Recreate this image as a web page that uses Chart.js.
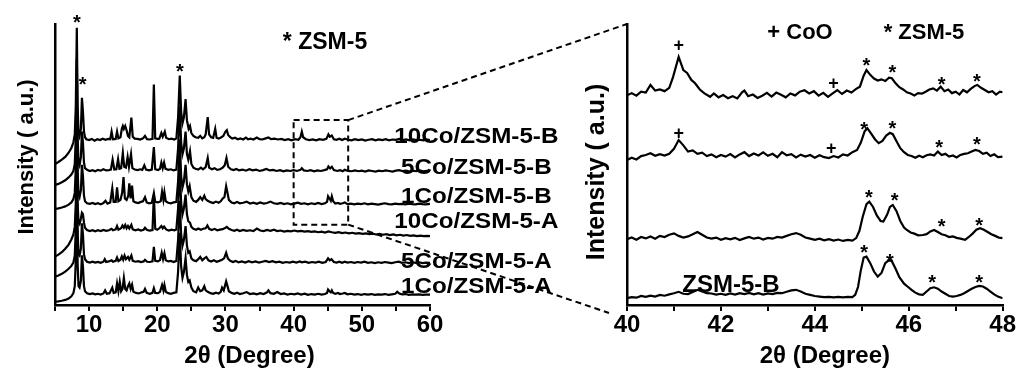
<!DOCTYPE html>
<html>
<head>
<meta charset="utf-8">
<script src="https://cdn.jsdelivr.net/npm/chart.js@4.4.0/dist/chart.umd.min.js"></script>
<style>
  html, body { margin: 0; padding: 0; background: #fff; width: 1016px; height: 373px; overflow: hidden; }
  #wrap { position: relative; width: 1016px; height: 373px; }
  canvas { position: absolute; top: 0; }
</style>
</head>
<body>
<div id="wrap">
  <canvas id="leftChart" width="580" height="373" style="left:0"></canvas>
  <canvas id="rightChart" width="456" height="373" style="left:560px"></canvas>
  <canvas id="links" width="1016" height="373" style="left:0;pointer-events:none"></canvas>
</div>
<script>
// ---- left panel: full patterns, 2θ 5-60, intensity above each trace's own baseline ----
const leftLabels  = ['1Co/ZSM-5-A', '5Co/ZSM-5-A', '10Co/ZSM-5-A', '1Co/ZSM-5-B', '5Co/ZSM-5-B', '10Co/ZSM-5-B'];
const leftOffsets = [3.7, 15.1, 26.3, 35.9, 47.7, 58.7];
const leftTicks   = [10, 20, 30, 40, 50, 60];

const p1CoA = [[5,-2.5],[5.5,-2.4],[6,-2.2],[6.5,-1.9],[7,-1.4],[7.4,-0.6],[7.7,0.5],[7.9,3],[8.05,12],[8.2,38],[8.32,11],[8.45,3],[8.6,2.5],[8.8,5],[8.95,14],[9.1,10],[9.25,3],[9.4,1.2],[9.7,0.5],[10.1,0.2],[10.5,0.4],[10.9,0.1],[11.3,0.3],[11.7,0],[12.1,0.4],[12.35,1.5],[12.6,0.3],[13,0.5],[13.4,2.5],[13.6,0.6],[13.9,0.8],[14.1,4],[14.3,1.2],[14.5,4.5],[14.7,1.2],[14.9,2],[15.1,5.9],[15.3,2],[15.5,1.5],[15.7,3],[15.9,4],[16.1,2],[16.3,3.5],[16.5,1],[16.9,0.6],[17.3,0.4],[17.7,0.8],[18,1],[18.2,2],[18.45,0.6],[18.9,0.3],[19.3,0.6],[19.5,2.3],[19.7,0.6],[20.1,0.5],[20.4,1],[20.7,3.4],[20.9,1.5],[21.05,3.4],[21.25,1],[21.6,0.5],[22,0.3],[22.4,0.6],[22.8,0.8],[23.05,8],[23.3,22],[23.5,10],[23.7,6],[23.9,8],[24.15,13],[24.35,7],[24.55,4.5],[24.75,5],[25,2.5],[25.3,1.2],[25.7,0.8],[26,2.5],[26.3,1.2],[26.6,1.5],[26.9,3],[27.1,1.5],[27.4,1],[27.8,0.5],[28.2,0.3],[28.6,0.7],[29,0.4],[29.3,1],[29.5,2.5],[29.75,1.5],[30.1,4.7],[30.3,3],[30.5,1.2],[30.9,0.6],[31.3,0.3],[31.7,0.7],[32.1,0.2],[32.6,0.5],[33.1,0.9],[33.6,0.2],[34.1,0.4],[34.6,0.1],[35.1,0.5],[35.6,0.2],[36.1,0.8],[36.3,1.5],[36.6,0.5],[37.1,0.3],[37.6,0.9],[38.1,0.2],[38.6,0.4],[39.1,0],[39.6,0.3],[40.1,0.1],[40.6,0.4],[41.1,0],[41.6,0.3],[42.1,-0.1],[42.6,0.2],[43.1,0],[43.6,0.3],[44.1,0],[44.6,0.2],[44.9,0.6],[45.05,1.8],[45.25,1.2],[45.45,0.8],[45.6,1.5],[45.8,0.6],[46.1,0.3],[46.5,0.6],[46.8,0.2],[47.2,0.4],[47.5,0.6],[47.9,0.1],[48.4,0.3],[48.9,0],[49.4,0.2],[49.9,-0.1],[50.4,0.2],[50.9,0],[51.4,0.2],[51.9,-0.1],[52.4,0.1],[52.9,0],[53.4,0.2],[53.9,-0.1],[54.4,0.1],[54.9,0.3],[55.2,1],[55.5,0.4],[55.9,0.1],[56.4,0.2],[56.9,-0.1],[57.4,0.1],[57.9,0],[58.4,0.1],[58.9,-0.1],[59.4,0],[60,0]];

const p5CoA = [[5,-5],[5.5,-4.6],[6,-4],[6.5,-3.2],[7,-2.2],[7.4,-1.2],[7.7,0],[7.9,2.5],[8.05,12],[8.2,38],[8.32,11],[8.45,3],[8.6,2.5],[8.8,5],[8.95,14],[9.1,10],[9.25,3],[9.4,1.2],[9.7,0.3],[10.1,0],[10.5,0.3],[10.9,0],[11.3,0.2],[11.7,-0.1],[12.1,0.3],[12.3,1.2],[12.5,0.2],[12.9,0.4],[13.3,0.8],[13.5,0.3],[13.9,0.6],[14.1,1.8],[14.3,0.5],[14.6,1],[14.8,2.2],[15,1],[15.2,2.5],[15.4,1.2],[15.7,2],[15.9,1],[16.2,2.5],[16.4,0.6],[16.8,0.3],[17.2,0.5],[17.6,0.2],[18,0.4],[18.2,1],[18.5,0.3],[18.9,0.2],[19.3,0.4],[19.5,5.6],[19.7,0.6],[20.1,0.4],[20.4,0.9],[20.65,3.5],[20.85,1.2],[21.05,3.3],[21.25,0.8],[21.6,0.4],[22,0.6],[22.4,0.2],[22.8,0.6],[23.05,8],[23.3,22],[23.5,10],[23.7,6],[23.9,8],[24.15,13],[24.35,6],[24.55,3.5],[24.75,4],[25,1.5],[25.3,0.8],[25.7,0.5],[26,1.2],[26.3,2],[26.6,0.8],[26.9,1.5],[27.2,2],[27.5,0.8],[27.9,0.4],[28.3,0.8],[28.7,0.3],[29.1,0.6],[29.5,1],[29.8,1.5],[30.1,3.5],[30.35,1.5],[30.7,0.6],[31.1,0.2],[31.5,0.6],[31.9,0.1],[32.4,0.4],[32.9,0],[33.4,0.5],[33.9,0.1],[34.4,0.4],[34.9,0],[35.4,0.3],[35.9,0.6],[36.4,0.2],[36.9,0.5],[37.4,0.1],[37.9,0.3],[38.4,-0.1],[38.9,0.2],[39.4,0],[39.9,0.3],[40.4,0],[40.9,0.4],[41.2,0.1],[41.7,0.3],[42.2,-0.1],[42.7,0.2],[43.2,0],[43.7,0.3],[44.2,-0.1],[44.7,0.2],[45.05,1.5],[45.3,0.8],[45.55,1.2],[45.9,0.2],[46.3,0],[46.7,0.3],[47.1,-0.1],[47.5,0.3],[47.9,0],[48.4,0.2],[48.9,-0.1],[49.4,0.2],[49.9,0],[50.4,0.3],[50.9,-0.1],[51.4,0.1],[51.9,-0.2],[52.4,0.1],[52.9,-0.1],[53.4,0.2],[53.9,0],[54.4,-0.2],[54.9,0.1],[55.4,0.3],[55.9,-0.1],[56.4,0.1],[56.9,-0.2],[57.4,0.1],[57.9,-0.1],[58.4,0.1],[58.9,-0.2],[59.4,0],[60,-0.1]];

const p10CoA = [[5,-9.1],[5.5,-8.4],[6,-7.5],[6.5,-6.3],[7,-4.8],[7.4,-3],[7.7,-1.2],[7.9,1.5],[8.05,10],[8.2,38],[8.32,10],[8.45,3],[8.6,2.5],[8.8,4.5],[8.95,6.5],[9.1,6],[9.25,3],[9.4,1.2],[9.7,0.4],[10.1,0],[10.5,0.3],[10.9,-0.1],[11.3,0.3],[11.7,0],[12.1,0.4],[12.5,0.1],[12.9,0.3],[13.3,0.8],[13.5,0.3],[13.9,0.6],[14.1,1.8],[14.3,0.5],[14.7,1],[14.9,2],[15.1,1.2],[15.3,2.2],[15.5,1],[15.7,1.8],[15.9,0.9],[16.2,2.2],[16.4,0.6],[16.8,0.3],[17.2,0.6],[17.6,0.2],[18,0.5],[18.2,1.2],[18.5,0.4],[18.9,0.2],[19.3,0.4],[19.5,12.8],[19.7,0.8],[20,0.5],[20.3,1],[20.6,1.8],[20.8,1],[21,1.6],[21.3,0.6],[21.7,0.2],[22.1,0.5],[22.5,0.3],[22.8,0.6],[23.05,8],[23.3,22],[23.5,10],[23.7,6],[23.9,8],[24.15,13],[24.35,6],[24.55,3.5],[24.8,3],[25,1.5],[25.3,0.8],[25.7,0.5],[26,0.9],[26.4,0.5],[26.8,0.9],[27.1,1],[27.35,2],[27.6,0.8],[28,0.4],[28.4,0.8],[28.8,0.3],[29.2,0.5],[29.6,0.7],[30,1.2],[30.2,1.5],[30.5,0.8],[30.9,0.4],[31.3,0.1],[31.7,0.5],[32.1,0],[32.6,0.4],[33.1,0.1],[33.6,0.3],[34.1,0],[34.6,0.9],[35.1,0.2],[35.6,0],[36.1,0.4],[36.6,0.1],[37.1,0.5],[37.6,0],[38.1,0.2],[38.6,-0.2],[39.1,0.1],[39.6,-0.1],[40.1,0.2],[40.6,-0.1],[41.1,0.1],[41.6,-0.2],[42.1,0],[42.6,-0.3],[43.1,-0.1],[43.6,-0.4],[44.1,-0.2],[44.6,-0.5],[45.1,-0.1],[45.6,-0.4],[46.1,-0.6],[46.6,-0.4],[47.1,-0.7],[47.6,-0.5],[48.1,-0.8],[48.6,-0.6],[49.1,-0.9],[49.6,-0.7],[50.1,-1],[50.6,-0.8],[51.1,-1.1],[51.6,-0.9],[52.1,-1.2],[52.6,-1],[53.1,-1.3],[53.6,-1.1],[54.1,-1.4],[54.6,-1.2],[55.1,-1.5],[55.6,-1.3],[56.1,-1.6],[56.6,-1.4],[57.1,-1.7],[57.6,-1.5],[58.1,-1.8],[58.6,-1.6],[59.1,-1.8],[59.6,-1.7],[60,-1.8]];

const p1CoB = [[5,-1.7],[5.5,-1.5],[6,-1.2],[6.5,-0.8],[7,-0.2],[7.4,0.6],[7.7,1.8],[7.9,4],[8.05,13],[8.2,40],[8.32,12],[8.45,3.5],[8.6,2.5],[8.8,5],[8.95,14],[9.1,10],[9.25,3],[9.4,1],[9.7,0.3],[10.1,0.1],[10.5,0.4],[10.9,0],[11.3,0.3],[11.7,-0.1],[12.1,0.4],[12.4,1.2],[12.7,0.2],[13.1,0.6],[13.4,5.6],[13.6,0.8],[13.9,0.8],[14.1,6],[14.3,1],[14.6,1.5],[14.85,4],[15.05,9.6],[15.25,2],[15.5,1.5],[15.75,3],[15.9,7.4],[16.1,2],[16.3,6.6],[16.5,1],[16.8,0.6],[17.2,0.4],[17.6,0.8],[17.9,1],[18.2,2.5],[18.45,0.6],[18.8,0.3],[19.2,0.5],[19.5,3.9],[19.7,0.8],[20.1,0.6],[20.5,1],[20.7,4.4],[20.9,1.5],[21.05,4.2],[21.25,1],[21.6,0.5],[22,0.3],[22.4,0.6],[22.8,0.8],[23.05,8],[23.3,23],[23.5,10],[23.7,6],[23.9,8],[24.15,14],[24.35,7],[24.55,4.5],[24.75,6.4],[25,2.5],[25.3,1.2],[25.7,0.8],[26,1.5],[26.3,2.5],[26.6,1.5],[26.9,3],[27.1,1.8],[27.4,1.2],[27.8,0.7],[28.2,0.4],[28.6,0.9],[29,0.5],[29.3,1],[29.6,2],[29.85,2.5],[30.1,6.4],[30.3,4],[30.5,1.5],[30.9,0.6],[31.3,0.3],[31.7,0.8],[32.1,0.3],[32.6,0.5],[33.1,0.9],[33.6,0.2],[34.1,0.5],[34.6,0.1],[35.1,0.6],[35.6,0.2],[36.1,0.4],[36.6,0.9],[37.1,0.3],[37.6,0.1],[38.1,0.4],[38.6,0],[39.1,0.3],[39.6,-0.1],[40.1,0.2],[40.6,0.5],[41.1,0.1],[41.6,0.3],[42.1,-0.1],[42.6,0.3],[43.1,0],[43.6,0.4],[44.1,0],[44.6,0.3],[44.9,0.8],[45.05,2.8],[45.25,2],[45.45,1.2],[45.6,2.8],[45.8,1],[46.1,0.2],[46.5,0.4],[46.8,0.1],[47.2,0.3],[47.5,0.6],[47.9,0],[48.4,0.2],[48.9,-0.1],[49.4,0.2],[49.9,0],[50.4,0.3],[50.9,-0.1],[51.4,0.2],[51.9,0],[52.4,-0.2],[52.9,0.1],[53.4,0.3],[53.9,0],[54.4,-0.1],[54.9,0.2],[55.4,0],[55.9,0.1],[56.4,-0.1],[56.9,0.2],[57.4,0],[57.9,-0.1],[58.4,0.2],[58.9,0],[59.4,-0.1],[60,0.1]];

const p5CoB = [[5,-5],[5.5,-4.6],[6,-4],[6.5,-3.3],[7,-2.3],[7.4,-1.3],[7.7,0],[7.9,2.5],[8.05,12],[8.2,40],[8.32,12],[8.45,3],[8.6,2],[8.8,5],[8.95,14],[9.1,10],[9.25,3],[9.4,1],[9.7,0.4],[10.1,0],[10.5,0.3],[10.9,-0.1],[11.3,0.4],[11.7,0.1],[12.1,0.6],[12.5,0.2],[12.9,0.3],[13.2,0.5],[13.45,4],[13.7,0.5],[14,0.6],[14.25,4.2],[14.45,0.8],[14.7,1],[14.95,6.4],[15.15,1.5],[15.4,1.2],[15.65,5],[15.85,1.5],[16.15,6],[16.35,1],[16.7,0.5],[17.1,0.3],[17.5,0.6],[17.8,0.4],[18.1,2],[18.35,0.5],[18.8,0.2],[19.2,0.5],[19.5,8.5],[19.7,0.6],[20.1,0.3],[20.4,0.8],[20.6,3],[20.8,1],[21,3],[21.2,0.8],[21.6,0.4],[22,0.6],[22.4,0.2],[22.8,0.5],[23.05,8],[23.3,23],[23.5,10],[23.7,6],[23.9,8],[24.15,14],[24.35,6],[24.55,4],[24.8,7],[25,2.5],[25.3,1.2],[25.6,0.8],[26,0.5],[26.4,1.2],[26.7,0.6],[27.1,1.4],[27.4,4.6],[27.6,1.2],[28,0.6],[28.4,1],[28.8,0.4],[29.2,0.6],[29.6,1.2],[29.9,2],[30.15,4.6],[30.4,1.5],[30.8,0.6],[31.2,0.3],[31.6,0.7],[32,0.2],[32.5,0.5],[33,0.1],[33.5,0.6],[34,0.2],[34.5,0.5],[35,0],[35.5,0.3],[36,0.7],[36.5,0.2],[37,0.4],[37.5,0],[38,0.3],[38.5,-0.1],[39,0.2],[39.5,0],[40,0.3],[40.5,0],[41,0.4],[41.2,1],[41.5,0.2],[42,0],[42.5,0.3],[43,-0.1],[43.5,0.2],[44,0],[44.5,0.3],[44.9,0.6],[45.1,1.6],[45.35,0.9],[45.6,1.5],[45.9,0.3],[46.4,0],[46.8,0.3],[47.2,-0.1],[47.5,0.4],[48,0],[48.5,-0.1],[49,0.2],[49.5,-0.1],[50,0.1],[50.5,-0.2],[51,0.2],[51.5,0],[52,-0.2],[52.5,0.1],[53,-0.1],[53.5,0.2],[54,0],[54.5,-0.2],[55,0.1],[55.5,0.3],[56,-0.1],[56.5,0.1],[57,-0.2],[57.5,0.1],[58,-0.1],[58.5,0.2],[59,-0.1],[59.5,0],[60,-0.1]];

const p10CoB = [[5,-8.5],[5.5,-7.8],[6,-7],[6.5,-6],[7,-4.5],[7.4,-2.8],[7.7,-0.8],[7.9,2],[8.05,12],[8.2,40],[8.32,12],[8.45,3],[8.6,1.5],[8.8,4],[8.95,15],[9.1,10],[9.25,3],[9.4,1],[9.6,0.3],[10,0],[10.4,0.4],[10.8,-0.2],[11.2,0.3],[11.6,0],[12,0.5],[12.4,0.1],[12.8,0.4],[13.1,0.3],[13.3,3],[13.5,0.3],[13.9,0.4],[14.1,3],[14.3,0.6],[14.6,1],[14.8,4],[14.95,5],[15.1,4],[15.3,5],[15.5,3.5],[15.7,1.5],[15.9,1],[16.2,8],[16.4,1.2],[16.7,0.5],[17.1,0.4],[17.5,0.2],[17.9,0.6],[18.2,1.5],[18.5,0.3],[18.9,0.2],[19.3,0.4],[19.5,19.8],[19.7,0.6],[20,0.4],[20.3,0.5],[20.6,2.5],[20.8,1.2],[21.1,3],[21.3,0.8],[21.7,0.3],[22.1,0.5],[22.5,0.2],[22.8,0.6],[23.05,8],[23.3,23],[23.5,10],[23.7,6],[23.9,8],[24.15,14.6],[24.35,7],[24.6,4],[24.8,5],[25,2.5],[25.3,1.5],[25.6,1],[26,0.8],[26.3,1.5],[26.6,0.6],[26.9,1],[27.1,2],[27.4,8.2],[27.6,2],[27.9,1],[28.2,0.8],[28.5,4],[28.7,0.8],[29,0.5],[29.4,1],[29.7,1.5],[30,3],[30.2,3.5],[30.4,1.8],[30.7,1],[31,0.5],[31.4,0.8],[31.8,0.3],[32.2,0.6],[32.6,0.2],[33,0.9],[33.3,0.3],[33.7,0.5],[34.1,0.2],[34.6,0.9],[35,0.3],[35.4,0.2],[35.9,0.6],[36.3,0.9],[36.7,0.3],[37.2,0.5],[37.7,0.2],[38.2,0.4],[38.7,0],[39.2,0.3],[39.7,-0.1],[40.2,0.3],[40.7,0.1],[41,1],[41.2,3],[41.4,1],[41.8,0.3],[42.3,0],[42.8,0.2],[43.3,-0.1],[43.8,0.3],[44.3,0.1],[44.8,0.4],[45.1,2],[45.3,1.2],[45.6,1.6],[45.9,0.3],[46.3,0.1],[46.7,0.5],[47.1,0],[47.5,0.5],[48,0.1],[48.5,-0.1],[49,0.3],[49.5,0],[50,0.2],[50.5,-0.2],[51,0.1],[51.5,0.3],[52,-0.1],[52.5,0.2],[53,0],[53.5,0.3],[54,-0.1],[54.5,0.2],[55,0.1],[55.5,0.4],[56,0],[56.5,0.2],[57,-0.1],[57.5,0.2],[58,0],[58.5,0.1],[59,-0.1],[59.5,0.2],[60,0]];

const leftPatterns = [p1CoA, p5CoA, p10CoA, p1CoB, p5CoB, p10CoB];

// ---- right panel: zoom 2θ 40-48 ----
const rightOffsets = [2.4, 23.4, 52.8, 75.1];   // ZSM-5-B, 10Co-A, 5Co-B, 10Co-B
const rightTicks   = [40, 42, 44, 46, 48];

const zZSM5B = [[40,0],[40.1,0.4],[40.2,0.2],[40.3,0.8],[40.4,0.5],[40.5,0.9],[40.6,0.6],[40.7,1.2],[40.8,0.9],[40.9,1.4],[41,1.8],[41.1,2.3],[41.2,1.6],[41.3,1.5],[41.4,2.2],[41.5,3],[41.6,2.4],[41.7,1.8],[41.8,1.7],[41.9,1.3],[42,1.6],[42.1,1.2],[42.2,1.7],[42.3,1.3],[42.4,1.8],[42.5,1.5],[42.6,1.9],[42.7,1.4],[42.8,1.8],[42.9,1.3],[43,1.7],[43.1,1.5],[43.2,1.9],[43.3,1.8],[43.4,2.3],[43.5,2.8],[43.6,3],[43.7,2.4],[43.8,1.6],[43.9,1.2],[44,0.8],[44.1,0.6],[44.2,0.4],[44.3,0.5],[44.4,0.3],[44.5,0.5],[44.6,0.3],[44.7,0.5],[44.8,0.4],[44.86,1.2],[44.92,4],[44.98,10],[45.04,14.5],[45.1,14.8],[45.18,12.5],[45.26,9.5],[45.34,7.7],[45.42,9],[45.5,12.5],[45.58,13.6],[45.64,13.2],[45.72,10.5],[45.8,7.5],[45.9,5.2],[45.98,4.1],[46.06,3],[46.14,2],[46.22,1.4],[46.3,1.2],[46.38,2.4],[46.46,3.6],[46.54,3.9],[46.62,3.4],[46.7,2.4],[46.78,1.6],[46.86,0.8],[46.94,0.6],[47.02,0.8],[47.1,1.2],[47.18,1.8],[47.26,2.6],[47.34,3.4],[47.42,4],[47.5,4.4],[47.58,4.2],[47.66,3.4],[47.74,2.4],[47.82,1.4],[47.9,0.6],[48,0]];

const z10CoA = [[40,0],[40.1,0.6],[40.2,-0.2],[40.3,0.8],[40.4,0.3],[40.5,1],[40.6,0.2],[40.7,1.2],[40.8,0.8],[40.9,1.6],[41,2.1],[41.1,1.2],[41.2,0.6],[41.3,1],[41.4,1.8],[41.5,2.6],[41.6,1.6],[41.7,0.6],[41.8,0.2],[41.9,0.6],[42,-0.2],[42.1,0.4],[42.2,0],[42.3,0.5],[42.4,-0.3],[42.5,0.3],[42.6,0.8],[42.7,0.2],[42.8,0.6],[42.9,-0.1],[43,0.5],[43.1,0.2],[43.2,0.8],[43.3,0.6],[43.4,1.2],[43.5,1.8],[43.6,2.2],[43.7,1.6],[43.8,0.6],[43.9,0.2],[44,-0.2],[44.1,0.2],[44.2,-0.4],[44.3,0],[44.4,-0.5],[44.5,-0.1],[44.6,-0.6],[44.7,-0.2],[44.8,-0.5],[44.88,0.4],[44.95,3],[45.02,8],[45.1,12.5],[45.16,13.4],[45.24,11.5],[45.32,8.5],[45.4,6.5],[45.46,6.3],[45.54,8.8],[45.6,11.5],[45.66,12.2],[45.74,10],[45.82,6.5],[45.9,4.2],[45.96,3.3],[46.04,2.4],[46.12,2],[46.2,1.4],[46.3,1.5],[46.38,1.8],[46.46,2.8],[46.54,3.3],[46.62,2.6],[46.7,1.8],[46.78,1.4],[46.86,0.8],[46.94,1],[47.02,0.5],[47.1,0.2],[47.2,-0.2],[47.28,0.8],[47.36,2],[47.44,3.4],[47.52,3.9],[47.6,3.4],[47.68,2.6],[47.76,1.8],[47.84,1.2],[47.92,0.6],[48,0.4]];

const z5CoB = [[40,-1.2],[40.1,-0.4],[40.2,-1],[40.3,0.2],[40.4,0.6],[40.5,1.2],[40.6,0.3],[40.7,0.9],[40.8,0.4],[40.9,1],[41,2.8],[41.1,5.9],[41.2,4],[41.3,1.8],[41.4,2.2],[41.5,1],[41.6,1.4],[41.7,0.2],[41.8,0.8],[41.9,-0.2],[42,0.6],[42.1,0],[42.2,0.9],[42.3,-0.3],[42.4,0.8],[42.5,1.6],[42.6,0.2],[42.7,1.1],[42.8,0.4],[42.9,1.5],[43,0.3],[43.1,1],[43.2,-0.2],[43.3,1.6],[43.4,0.5],[43.5,0.9],[43.6,-0.3],[43.7,0.7],[43.8,0],[43.9,0.6],[44,-0.4],[44.1,0.5],[44.2,-0.2],[44.3,-0.5],[44.4,0.2],[44.5,-0.3],[44.6,0.8],[44.7,0.4],[44.8,1.6],[44.9,2.4],[44.98,5],[45.06,9],[45.12,10.1],[45.2,8.2],[45.28,6.2],[45.36,4.8],[45.44,5.6],[45.52,7.5],[45.6,8.5],[45.66,8],[45.74,5.5],[45.82,3],[45.9,1.6],[45.98,0.6],[46.06,0.2],[46.14,-0.4],[46.22,0.3],[46.3,-0.2],[46.38,0.5],[46.46,0.8],[46.54,0.4],[46.62,1.8],[46.7,0.6],[46.78,1],[46.86,0],[46.94,0.4],[47.02,-0.3],[47.1,0.6],[47.18,1],[47.26,1.2],[47.34,1.8],[47.42,2.4],[47.5,2],[47.58,1],[47.66,1.4],[47.74,0.2],[47.82,0.8],[47.9,-0.2],[48,0]];

const z10CoB = [[40,-0.5],[40.1,0.3],[40.2,-0.6],[40.3,0.8],[40.4,0.5],[40.5,3.2],[40.6,1.2],[40.7,1.6],[40.8,1],[40.9,2.2],[40.98,6],[41.1,13.2],[41.2,8.5],[41.28,7.5],[41.37,5],[41.45,3.8],[41.55,1.6],[41.65,0.2],[41.77,-1],[41.85,0.2],[41.95,-1.2],[42.05,-0.4],[42.15,-1.5],[42.25,-0.8],[42.35,-1.6],[42.45,0.6],[42.5,1.2],[42.58,-0.8],[42.68,-0.2],[42.78,-1.4],[42.88,-0.6],[42.98,0.4],[43.08,-0.9],[43.18,0.5],[43.28,-0.3],[43.38,-1.2],[43.48,0.2],[43.58,-0.5],[43.68,0.8],[43.78,1.3],[43.88,0.2],[43.98,1],[44.08,-0.6],[44.18,0.4],[44.28,-1],[44.38,0.2],[44.48,1.4],[44.58,0],[44.68,1.2],[44.78,0.5],[44.88,1.8],[44.96,2.6],[45.04,6.5],[45.1,8.5],[45.18,6.8],[45.26,5.5],[45.34,4.8],[45.42,5.2],[45.5,4.6],[45.58,5.8],[45.64,5.6],[45.72,3.8],[45.8,2.4],[45.88,1.6],[45.96,0.6],[46.04,0.2],[46.12,-0.5],[46.2,0.3],[46.28,0.1],[46.36,0.8],[46.44,1.6],[46.52,2],[46.6,1.2],[46.68,2.6],[46.76,1],[46.84,1.6],[46.92,0.3],[47,0.8],[47.08,-0.2],[47.16,1.4],[47.24,0.6],[47.32,1.8],[47.4,2.8],[47.46,3.2],[47.54,2.2],[47.62,1.4],[47.7,0.6],[47.78,1],[47.86,-0.2],[47.94,0.8],[48,0.6]];

const rightPatterns = [zZSM5B, z10CoA, z5CoB, z10CoB];

// ---- annotations (data units) ----
const leftStars  = [[8.2, 102], [9.05, 80], [23.3, 84.8]];
const zoomBox    = [40, 48, 28.6, 65.8];
const leftLabelX = 66.8;
const leftLabelY = [6.4, 15.3, 29.5, 38.4, 48.8, 59.8];
const rightMarks = [
  ['+', 41.1, 92.5], ['+', 44.4, 79], ['*', 45.1, 86.9], ['*', 45.65, 84.2], ['*', 46.7, 80.1], ['*', 47.45, 81.2],
  ['+', 41.1, 61.2], ['+', 44.35, 55.9], ['*', 45.05, 64.1], ['*', 45.65, 64.4], ['*', 46.65, 57.5], ['*', 47.45, 58.7],
  ['*', 45.15, 40], ['*', 45.7, 38.8], ['*', 46.7, 29.6], ['*', 47.5, 30],
  ['*', 45.05, 20.2], ['*', 45.6, 17.2], ['*', 46.5, 9.5], ['*', 47.5, 9.5]
];

const FONT = "'Liberation Sans', Arial, sans-serif";

function stack(points, off) {
  return points.map(p => ({x: p[0], y: p[1] + off}));
}

function drawMark(ctx, ch, x, y) {
  ctx.textAlign = 'center';
  ctx.textBaseline = 'alphabetic';
  if (ch === '*') {
    ctx.font = 'bold 20px ' + FONT;
    ctx.fillText('*', x, y + 11);
  } else {
    ctx.font = 'bold 18px ' + FONT;
    ctx.fillText('+', x, y + 6);
  }
}

function wideText(ctx, text, cx, cy, sx) {
  ctx.save();
  ctx.translate(cx, cy);
  ctx.scale(sx, 1);
  ctx.textAlign = 'center';
  ctx.textBaseline = 'middle';
  ctx.fillText(text, 0, 0);
  ctx.restore();
}

function yTitle(ctx, cx, cy, size) {
  ctx.save();
  ctx.translate(cx, cy);
  ctx.rotate(-Math.PI / 2);
  ctx.font = 'bold ' + size + 'px ' + FONT;
  ctx.textAlign = 'center';
  ctx.textBaseline = 'middle';
  ctx.fillText('Intensity ( a.u.)', 0, 0);
  ctx.restore();
}

function xTitle(ctx, cx, cy) {
  ctx.font = 'bold 24px ' + FONT;
  ctx.textAlign = 'center';
  ctx.textBaseline = 'middle';
  ctx.fillText('2θ (Degree)', cx, cy);
}

function axisOptions(xmin, xmax, step, ticks, yWidth, padRight) {
  return {
    responsive: false,
    animation: false,
    layout: {padding: {top: 24, right: padRight, left: 0, bottom: 0}},
    plugins: {legend: {display: false}, tooltip: {enabled: false}},
    elements: {point: {radius: 0}, line: {borderWidth: 2.2, borderColor: '#000', tension: 0}},
    scales: {
      x: {
        type: 'linear', min: xmin, max: xmax,
        ticks: {
          stepSize: step, autoSkip: false, maxRotation: 0, padding: 0, color: '#000',
          font: {family: FONT, size: 24, weight: 'bold'},
          callback: v => ticks.includes(v) ? String(v) : ''
        },
        grid: {drawOnChartArea: false, drawTicks: true, tickLength: 6, color: '#000', lineWidth: 2},
        border: {display: true, color: '#000', width: 2.5},
        afterFit: s => { s.height = 68; }
      },
      y: {
        min: 0, max: 100,
        ticks: {display: false},
        grid: {display: false},
        border: {display: true, color: '#000', width: 2.5},
        afterFit: s => { s.width = yWidth; }
      }
    }
  };
}

const leftDecor = {
  id: 'leftDecor',
  afterDraw(chart) {
    const {ctx, chartArea, scales: {x, y}} = chart;
    ctx.save();
    ctx.strokeStyle = '#000';
    ctx.lineWidth = 2;
    ctx.setLineDash([6, 4]);
    const bx0 = x.getPixelForValue(zoomBox[0]), bx1 = x.getPixelForValue(zoomBox[1]);
    const by0 = y.getPixelForValue(zoomBox[3]), by1 = y.getPixelForValue(zoomBox[2]);
    ctx.strokeRect(bx0, by0, bx1 - bx0, by1 - by0);
    ctx.setLineDash([]);
    ctx.fillStyle = '#000';
    ctx.font = 'bold 22px ' + FONT;
    leftLabels.forEach((t, i) => wideText(ctx, t, x.getPixelForValue(leftLabelX), y.getPixelForValue(leftLabelY[i]), 1.1));
    leftStars.forEach(s => drawMark(ctx, '*', x.getPixelForValue(s[0]), y.getPixelForValue(s[1])));
    ctx.font = 'bold 23px ' + FONT;
    ctx.textAlign = 'center';
    ctx.textBaseline = 'middle';
    ctx.fillText('* ZSM-5', 325, 43);
    yTitle(ctx, 27, 157, 22);
    xTitle(ctx, (chartArea.left + chartArea.right) / 2 + 7, 356);
    ctx.restore();
  }
};

const rightDecor = {
  id: 'rightDecor',
  afterDraw(chart) {
    const {ctx, chartArea, scales: {x, y}} = chart;
    ctx.save();
    ctx.fillStyle = '#000';
    rightMarks.forEach(m => drawMark(ctx, m[0], x.getPixelForValue(m[1]), y.getPixelForValue(m[2])));
    ctx.font = 'bold 22px ' + FONT;
    ctx.textAlign = 'center';
    ctx.textBaseline = 'middle';
    ctx.fillText('+ CoO', 800 - 560, 33);
    ctx.fillText('* ZSM-5', 924 - 560, 33);
    ctx.font = 'bold 24px ' + FONT;
    ctx.fillText('ZSM-5-B', 731 - 560, 285);
    yTitle(ctx, 597 - 560, 172, 25);
    xTitle(ctx, (chartArea.left + chartArea.right) / 2 + 10, 356);
    ctx.restore();
  }
};

const leftChart = new Chart(document.getElementById('leftChart'), {
  type: 'line',
  data: {datasets: leftPatterns.map((p, i) => ({label: leftLabels[i], data: stack(p, leftOffsets[i])}))},
  options: axisOptions(5, 60, 5, leftTicks, 55, 150),
  plugins: [leftDecor]
});

const rightNames = ['ZSM-5-B', '10Co/ZSM-5-A', '5Co/ZSM-5-B', '10Co/ZSM-5-B'];
const rightChart = new Chart(document.getElementById('rightChart'), {
  type: 'line',
  data: {datasets: rightPatterns.map((p, i) => ({label: rightNames[i], data: stack(p, rightOffsets[i])}))},
  options: axisOptions(40, 48, 1, rightTicks, 67, 13),
  plugins: [rightDecor]
});

// dashed connectors from the zoom box to the right panel
(function drawLinks() {
  const ctx = document.getElementById('links').getContext('2d');
  const lx = leftChart.scales.x, ly = leftChart.scales.y;
  const ra = rightChart.chartArea;
  const bx = lx.getPixelForValue(zoomBox[1]);
  const top = ly.getPixelForValue(zoomBox[3]);
  const bot = ly.getPixelForValue(zoomBox[2]);
  ctx.strokeStyle = '#000';
  ctx.lineWidth = 2;
  ctx.setLineDash([6, 4]);
  ctx.beginPath();
  ctx.moveTo(bx, top);
  ctx.lineTo(560 + ra.left, ra.top);
  ctx.moveTo(bx, bot);
  ctx.lineTo(560 + ra.left - 18, ra.bottom + 8);
  ctx.stroke();
})();
</script>
</body>
</html>
